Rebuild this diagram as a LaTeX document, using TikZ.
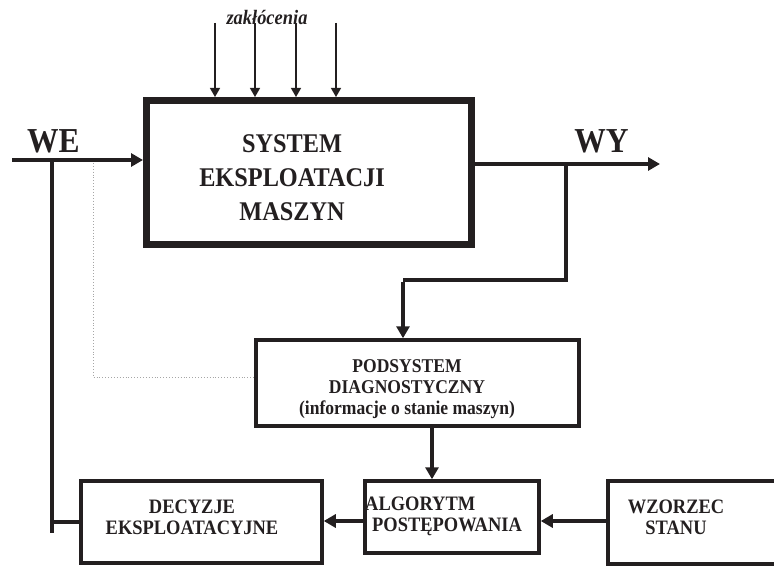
\documentclass[tikz,border=0pt]{standalone}
\usepackage{fontspec}
\setmainfont{Liberation Serif}
\newfontfamily\condserif[FakeStretch=0.9]{Liberation Serif}
\usetikzlibrary{arrows.meta}
\definecolor{ink}{RGB}{35,31,32}
\begin{document}
\begin{tikzpicture}[x=1pt,y=-1pt,
  box/.style={draw=ink, line width=3.5pt, inner sep=0pt},
  conn/.style={draw=ink, line width=4pt},
  arr/.style={conn, -{Triangle[length=12pt,width=13pt]}},
  thinarr/.style={draw=ink, line width=1.3pt, -{Triangle[length=9pt,width=10pt]}},
  lbl/.style={text=ink, font=\condserif\fontsize{20.5}{21}\selectfont\bfseries, align=center, inner sep=0pt},
  biglbl/.style={text=ink, font=\condserif\fontsize{27}{34}\selectfont\bfseries, align=center, inner sep=0pt},
  io/.style={text=ink, font=\condserif\fontsize{35}{36}\selectfont\bfseries, inner sep=0pt, anchor=base},
  faint/.style={draw=gray!70, line width=0.9pt, dotted}
]
\clip (0,0) rectangle (774,567);
% boxes
\node[box, line width=7pt, minimum width=325pt, minimum height=144pt] (sys) at (309,172.5) {};
\node[biglbl] (systxt) at (292,178) {SYSTEM\\EKSPLOATACJI\\MASZYN};
\node[box, minimum width=323pt, minimum height=86pt] (diag) at (417.5,383) {};
\node[lbl, font=\condserif\fontsize{19.5}{21}\selectfont\bfseries] (diagtxt) at (407,389) {PODSYSTEM\\DIAGNOSTYCZNY\\(informacje o stanie maszyn)};
\node[box, minimum width=241pt, minimum height=82pt] (dec) at (201.5,522) {};
\node[lbl] (dectxt) at (192,517) {DECYZJE\\EKSPLOATACYJNE};
\node[box, minimum width=174pt, minimum height=72pt] (alg) at (452,517) {};
\node[lbl, align=left, anchor=west] (algtxt) at (365,516) {ALGORYTM\\\hspace*{7pt}POSTĘPOWANIA};
\node[box, minimum width=184pt, minimum height=83pt] (wz) at (700,522.5) {};
\node[lbl] (wztxt) at (676,517.5) {WZORZEC\\STANU};
% labels
\node[io] (we) at (53.5,153) {WE};
\node[io] (wy) at (601.5,153) {WY};
\node[text=ink, font=\condserif\fontsize{20.5}{21}\selectfont\bfseries\itshape, inner sep=0pt, anchor=base] (zak) at (267,25) {zakłócenia};
% disturbances
\foreach \x/\n in {215/1,255/2,296/3,336/4}{
  \coordinate (z\n) at (\x,23);
  \draw[thinarr] (z\n) -- (z\n |- sys.north);
}
% input
\coordinate (win) at (12,160);
\coordinate (j1) at (52,160);
\coordinate (j1b) at (52,533);
\draw[arr] (win) -- (win -| sys.west);
\draw[conn] (j1) -- (j1b);
\draw[conn] (j1b |- dec.west) -- (dec.west);
% dotted
\coordinate (d1) at (93,163);
\coordinate (d2) at (93,377);
\draw[faint] (d1) -- (d2) -- (d2 -| diag.west);
% output
\coordinate (wyend) at (660,164);
\draw[arr] (sys.east |- wyend) -- (wyend);
\coordinate (br1) at (566,164);
\coordinate (br2) at (566,280);
\coordinate (br3) at (403,280);
\draw[conn] (br1) -- (br2) -- (br3);
\draw[arr] ([yshift=-2pt]br3) -- (br3 |- diag.north);
% diag -> alg
\coordinate (da) at (432,0);
\draw[arr] (da |- diag.south) -- (da |- alg.north);
% bottom row
\coordinate (row) at (0,521);
\draw[arr] (row -| alg.west) -- (row -| dec.east);
\draw[arr] (row -| wz.west) -- (row -| alg.east);
\end{tikzpicture}
\end{document}
